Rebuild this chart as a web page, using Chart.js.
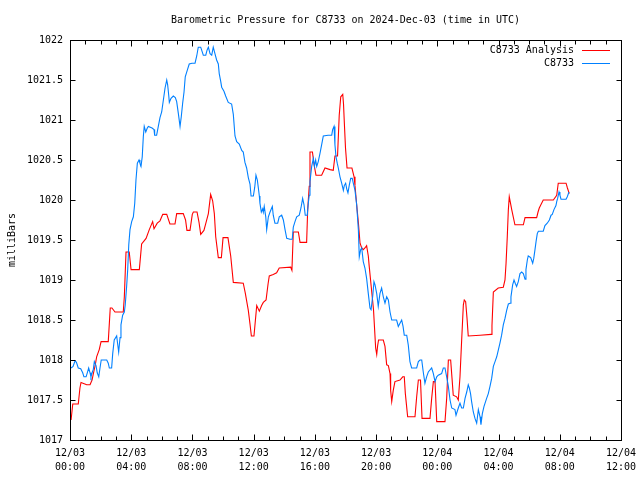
<!DOCTYPE html>
<html><head><meta charset="utf-8">
<script src="https://cdn.jsdelivr.net/npm/chart.js@4"></script>
<style>html,body{margin:0;padding:0;background:#fff}#c{display:block}</style>
</head><body>
<canvas id="c" width="640" height="480"></canvas>
<script>
const chartTitle = 'Barometric Pressure for C8733 on 2024-Dec-03 (time in UTC)';
const yAxisTitle = 'milliBars';
const seriesNames = ['C8733 Analysis', 'C8733'];
const xTickHours = [0, 4, 8, 12, 16, 20, 24, 28, 32, 36];
const xTickDates = ['12/03','12/03','12/03','12/03','12/03','12/03','12/04','12/04','12/04','12/04'];
const xTickTimes = ['00:00','04:00','08:00','12:00','16:00','20:00','00:00','04:00','08:00','12:00'];

// C8733 Analysis (hours since 12/03 00:00 UTC, mb)
const analysisHours = [0.07,0.18,0.54,0.65,0.72,1.09,1.31,1.44,1.55,1.65,1.74,1.91,2.03,2.50,2.63,2.74,2.94,3.48,3.55,3.66,3.87,3.99,4.53,4.68,4.97,5.18,5.40,5.49,5.70,5.88,6.06,6.32,6.53,6.86,6.97,7.40,7.55,7.64,7.84,7.99,8.06,8.30,8.43,8.54,8.75,8.89,9.04,9.19,9.32,9.43,9.52,9.69,9.89,10.00,10.32,10.50,10.67,11.32,11.45,11.65,11.76,11.85,12.02,12.20,12.37,12.52,12.63,12.81,12.94,13.02,13.28,13.50,13.67,14.42,14.50,14.59,14.92,15.03,15.46,15.53,15.63,15.68,15.84,15.94,16.07,16.44,16.66,16.99,17.20,17.31,17.48,17.59,17.69,17.82,17.87,17.92,18.00,18.10,18.42,18.56,18.62,18.73,18.84,18.95,19.06,19.16,19.27,19.38,19.49,19.55,19.71,19.83,19.97,20.04,20.10,20.16,20.47,20.58,20.69,20.80,20.91,20.95,21.02,21.12,21.23,21.56,21.74,21.84,21.91,22.06,22.54,22.65,22.76,22.90,23.00,23.52,23.63,23.74,23.85,23.96,24.50,24.61,24.72,24.87,24.96,25.04,25.26,25.37,25.48,25.59,25.70,25.76,25.85,25.94,26.02,26.79,27.51,27.57,27.66,27.98,28.31,28.42,28.49,28.57,28.64,28.70,28.78,28.86,28.96,29.07,29.62,29.73,30.49,30.58,30.66,30.92,31.58,31.80,31.90,32.41,32.50,32.62];
const analysisValues = [1017.25,1017.45,1017.45,1017.65,1017.72,1017.69,1017.69,1017.75,1017.85,1017.94,1018.04,1018.13,1018.23,1018.23,1018.65,1018.65,1018.60,1018.60,1018.79,1019.35,1019.35,1019.13,1019.13,1019.45,1019.52,1019.63,1019.73,1019.64,1019.71,1019.74,1019.82,1019.82,1019.70,1019.70,1019.83,1019.83,1019.75,1019.62,1019.62,1019.82,1019.85,1019.85,1019.72,1019.57,1019.62,1019.72,1019.83,1020.07,1019.99,1019.83,1019.54,1019.28,1019.28,1019.53,1019.53,1019.30,1018.97,1018.96,1018.84,1018.62,1018.45,1018.30,1018.30,1018.68,1018.61,1018.68,1018.72,1018.75,1018.95,1019.05,1019.07,1019.09,1019.15,1019.16,1019.12,1019.60,1019.60,1019.47,1019.47,1019.88,1020.17,1020.60,1020.60,1020.45,1020.31,1020.31,1020.40,1020.38,1020.37,1020.55,1020.55,1021.06,1021.29,1021.32,1021.20,1020.98,1020.65,1020.40,1020.40,1020.29,1020.18,1019.94,1019.72,1019.46,1019.40,1019.38,1019.40,1019.43,1019.30,1019.17,1018.86,1018.63,1018.15,1018.07,1018.18,1018.25,1018.25,1018.17,1017.94,1017.93,1017.83,1017.62,1017.48,1017.62,1017.73,1017.75,1017.79,1017.79,1017.58,1017.29,1017.29,1017.54,1017.75,1017.75,1017.27,1017.27,1017.52,1017.73,1017.73,1017.23,1017.23,1017.52,1018.00,1018.00,1017.77,1017.56,1017.54,1017.50,1017.79,1018.25,1018.69,1018.75,1018.73,1018.52,1018.30,1018.31,1018.32,1018.43,1018.85,1018.90,1018.91,1019.00,1019.21,1019.54,1019.88,1020.04,1019.96,1019.88,1019.79,1019.69,1019.69,1019.78,1019.78,1019.85,1019.90,1020.00,1020.00,1020.06,1020.21,1020.21,1020.15,1020.08];

// C8733 station observations
const stationHours = [0.07,0.20,0.33,0.42,0.54,0.70,0.83,0.91,1.05,1.13,1.22,1.31,1.37,1.46,1.52,1.59,1.70,1.78,1.88,1.96,2.04,2.40,2.50,2.57,2.72,2.79,2.89,3.05,3.12,3.18,3.27,3.33,3.44,3.55,3.61,3.70,3.77,3.84,3.92,4.03,4.14,4.23,4.31,4.40,4.51,4.57,4.64,4.72,4.79,4.85,4.95,5.05,5.12,5.36,5.49,5.53,5.66,5.77,5.88,5.99,6.10,6.21,6.32,6.38,6.45,6.49,6.60,6.75,6.88,6.97,7.08,7.19,7.27,7.36,7.45,7.53,7.66,7.79,7.97,8.17,8.28,8.38,8.54,8.71,8.87,8.95,9.04,9.15,9.26,9.36,9.47,9.58,9.69,9.75,9.85,9.91,10.06,10.17,10.34,10.56,10.67,10.78,10.89,11.06,11.22,11.32,11.43,11.54,11.65,11.76,11.83,11.98,12.07,12.15,12.24,12.30,12.37,12.41,12.50,12.59,12.63,12.69,12.79,12.85,12.92,12.96,13.07,13.22,13.28,13.39,13.57,13.67,13.83,13.94,14.05,14.16,14.37,14.52,14.59,14.70,14.81,14.98,15.09,15.20,15.29,15.37,15.50,15.57,15.63,15.68,15.79,15.90,15.97,16.05,16.12,16.22,16.33,16.44,16.55,16.86,17.10,17.16,17.25,17.31,17.38,17.46,17.53,17.64,17.75,17.86,17.92,18.01,18.08,18.16,18.25,18.34,18.44,18.51,18.62,18.73,18.84,18.90,18.99,19.06,19.16,19.27,19.38,19.49,19.60,19.67,19.78,19.86,19.93,20.04,20.14,20.25,20.36,20.47,20.58,20.69,20.80,20.91,21.02,21.34,21.45,21.56,21.67,21.76,21.84,22.00,22.10,22.21,22.32,22.65,22.76,22.87,22.98,23.08,23.19,23.30,23.41,23.63,23.74,23.85,23.96,24.06,24.28,24.39,24.50,24.61,24.72,24.83,24.94,25.15,25.22,25.37,25.48,25.59,25.70,25.81,25.92,26.02,26.09,26.17,26.24,26.35,26.46,26.57,26.68,26.79,26.85,26.94,27.05,27.22,27.33,27.44,27.55,27.66,27.77,27.88,27.98,28.09,28.20,28.31,28.42,28.53,28.64,28.75,28.81,28.92,29.01,29.09,29.18,29.29,29.40,29.51,29.62,29.73,29.79,29.88,29.94,30.10,30.23,30.30,30.38,30.45,30.53,30.60,30.92,31.03,31.18,31.32,31.43,31.51,31.62,31.75,31.80,31.86,31.95,32.01,32.08,32.41,32.49,32.60];
const stationValues = [1017.90,1017.92,1017.99,1017.97,1017.90,1017.89,1017.84,1017.79,1017.79,1017.84,1017.90,1017.84,1017.79,1017.85,1017.88,1017.98,1017.93,1017.84,1017.79,1017.90,1018.00,1018.00,1017.96,1017.90,1017.90,1018.08,1018.25,1018.30,1018.19,1018.10,1018.28,1018.44,1018.56,1018.60,1018.69,1018.92,1019.13,1019.44,1019.63,1019.73,1019.79,1019.96,1020.25,1020.46,1020.50,1020.46,1020.42,1020.54,1020.79,1020.92,1020.85,1020.90,1020.92,1020.90,1020.88,1020.81,1020.81,1020.92,1021.03,1021.10,1021.25,1021.40,1021.50,1021.44,1021.31,1021.22,1021.27,1021.30,1021.28,1021.23,1021.08,1020.92,1021.04,1021.21,1021.35,1021.54,1021.62,1021.70,1021.71,1021.71,1021.80,1021.91,1021.91,1021.81,1021.81,1021.87,1021.91,1021.83,1021.81,1021.91,1021.83,1021.75,1021.70,1021.58,1021.48,1021.41,1021.36,1021.30,1021.22,1021.20,1021.07,1020.80,1020.73,1020.70,1020.62,1020.60,1020.47,1020.40,1020.28,1020.20,1020.05,1020.05,1020.16,1020.31,1020.25,1020.16,1020.05,1019.96,1019.85,1019.89,1019.85,1019.92,1019.79,1019.63,1019.73,1019.79,1019.85,1019.92,1019.81,1019.71,1019.71,1019.79,1019.81,1019.75,1019.63,1019.52,1019.51,1019.51,1019.66,1019.73,1019.79,1019.81,1019.90,1020.02,1019.94,1019.81,1019.81,1019.96,1020.06,1020.23,1020.42,1020.52,1020.42,1020.50,1020.42,1020.48,1020.58,1020.69,1020.80,1020.81,1020.81,1020.88,1020.92,1020.69,1020.54,1020.46,1020.40,1020.29,1020.21,1020.12,1020.18,1020.21,1020.14,1020.09,1020.19,1020.27,1020.27,1020.21,1020.12,1019.94,1019.63,1019.29,1019.38,1019.40,1019.23,1019.15,1019.02,1018.83,1018.65,1018.63,1018.80,1018.98,1018.94,1018.83,1018.67,1018.83,1018.90,1018.79,1018.71,1018.79,1018.75,1018.60,1018.50,1018.50,1018.42,1018.46,1018.50,1018.42,1018.31,1018.31,1018.19,1017.98,1017.90,1017.90,1017.98,1018.00,1018.00,1017.85,1017.71,1017.79,1017.85,1017.90,1017.83,1017.73,1017.79,1017.81,1017.83,1017.90,1017.90,1017.79,1017.67,1017.50,1017.40,1017.38,1017.31,1017.40,1017.46,1017.40,1017.40,1017.52,1017.60,1017.69,1017.65,1017.58,1017.48,1017.35,1017.27,1017.21,1017.38,1017.29,1017.19,1017.33,1017.42,1017.52,1017.58,1017.67,1017.77,1017.92,1017.98,1018.04,1018.12,1018.21,1018.31,1018.44,1018.52,1018.62,1018.70,1018.71,1018.79,1018.94,1019.00,1018.96,1018.92,1018.98,1019.08,1019.10,1019.08,1019.01,1019.13,1019.25,1019.30,1019.28,1019.21,1019.27,1019.38,1019.48,1019.58,1019.61,1019.61,1019.68,1019.71,1019.75,1019.81,1019.82,1019.88,1019.93,1019.98,1020.02,1020.10,1020.06,1020.01,1020.01,1020.04,1020.10];

const FONT = "'DejaVu Sans Mono', 'Liberation Mono', monospace";
const RED = '#ff0000';
const BLUE = '#0080ff';

const toPoints = (hs, vs) => hs.map((h, i) => ({x: h, y: vs[i]}));

const decor = {
  id: 'decor',
  afterDraw(chart) {
    const {ctx, chartArea: a, scales: {x, y}} = chart;
    ctx.save();
    ctx.strokeStyle = '#000';
    ctx.lineWidth = 1;
    const L = Math.round(a.left) + 0.5, R = Math.round(a.right) + 0.5;
    const T = Math.round(a.top) + 0.5, B = Math.round(a.bottom) + 0.5;
    ctx.beginPath();
    for (let h = x.min; h <= x.max; h += 1) {
      const px = Math.round(x.getPixelForValue(h)) + 0.5;
      const len = xTickHours.includes(h) ? 6 : 4;
      ctx.moveTo(px, B); ctx.lineTo(px, B - len);
      ctx.moveTo(px, T); ctx.lineTo(px, T + len);
    }
    for (const t of y.ticks) {
      const py = Math.round(y.getPixelForValue(t.value)) + 0.5;
      ctx.moveTo(L, py); ctx.lineTo(L + 5, py);
      ctx.moveTo(R, py); ctx.lineTo(R - 5, py);
    }
    ctx.stroke();
    ctx.strokeRect(L, T, R - L, B - T);
    ctx.fillStyle = '#000';
    ctx.font = '10px ' + FONT;
    ctx.textAlign = 'center';
    ctx.textBaseline = 'middle';
    ctx.fillText(chartTitle, (a.left + a.right) / 2, 20);
    ctx.textAlign = 'right';
    chart.data.datasets.forEach((ds, i) => {
      const ly = a.top + 10 + i * 13;
      ctx.fillStyle = '#000';
      ctx.fillText(ds.label, a.right - 47, ly);
      ctx.strokeStyle = ds.borderColor;
      ctx.beginPath();
      ctx.moveTo(a.right - 39, Math.round(ly) + 0.5);
      ctx.lineTo(a.right - 11, Math.round(ly) + 0.5);
      ctx.stroke();
    });
    ctx.restore();
  }
};

new Chart(document.getElementById('c'), {
  type: 'line',
  data: {
    datasets: [
      {label: seriesNames[0], data: toPoints(analysisHours, analysisValues), borderColor: RED, backgroundColor: RED, borderWidth: 1.1, pointRadius: 0, tension: 0, order: 1},
      {label: seriesNames[1], data: toPoints(stationHours, stationValues), borderColor: BLUE, backgroundColor: BLUE, borderWidth: 1.1, pointRadius: 0, tension: 0, order: 0}
    ]
  },
  options: {
    responsive: false,
    animation: false,
    devicePixelRatio: 1,
    events: [],
    layout: {padding: {top: 40, right: 19, left: 0, bottom: 0}},
    plugins: {legend: {display: false}, title: {display: false}, tooltip: {enabled: false}},
    scales: {
      x: {
        type: 'linear', min: 0, max: 36,
        afterFit: s => { s.height = 40; s.paddingLeft = 0; s.paddingRight = 0; },
        grid: {display: false, drawTicks: false},
        border: {display: false},
        ticks: {
          stepSize: 4, autoSkip: false, maxRotation: 0, padding: 7, color: '#000',
          font: {family: FONT, size: 10, lineHeight: 1.35},
          callback: (v) => { const i = xTickHours.indexOf(v); return i < 0 ? '' : [xTickDates[i], xTickTimes[i]]; }
        }
      },
      y: {
        min: 1017, max: 1022,
        afterFit: s => { s.width = 70; s.paddingTop = 0; s.paddingBottom = 0; },
        grid: {display: false, drawTicks: false},
        border: {display: false},
        ticks: {
          stepSize: 0.5, padding: 7, color: '#000',
          font: {family: FONT, size: 10},
          callback: v => Number.isInteger(v) ? String(v) : v.toFixed(1)
        },
        title: {display: true, text: yAxisTitle, color: '#000', font: {family: FONT, size: 10}, padding: {top: 6, bottom: 0}}
      }
    }
  },
  plugins: [decor]
});
</script>
</body></html>
